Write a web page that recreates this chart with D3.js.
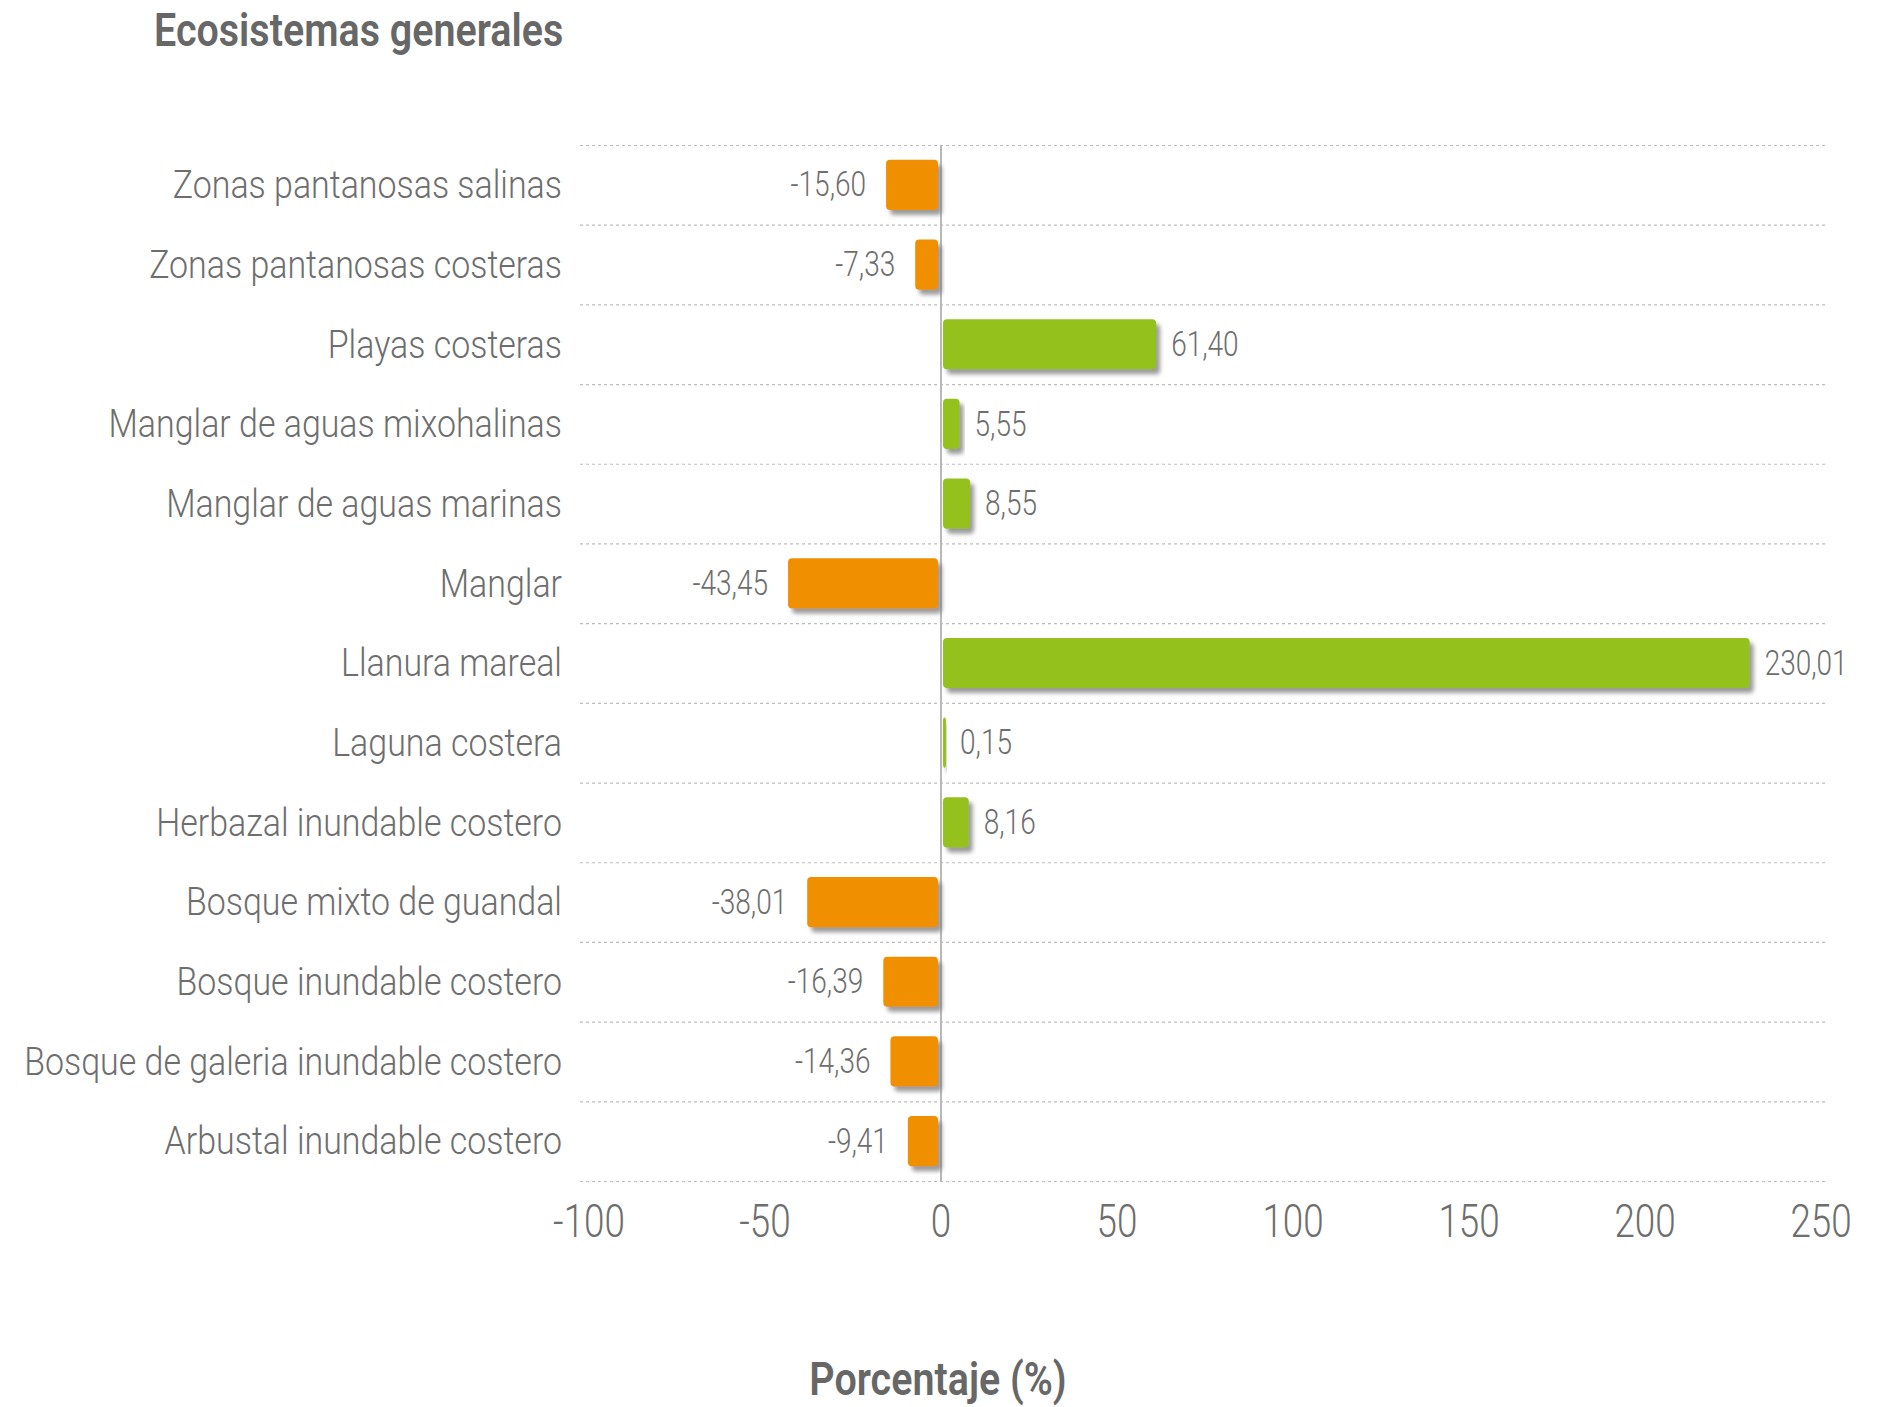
<!DOCTYPE html>
<html>
<head>
<meta charset="utf-8">
<script src="https://cdn.jsdelivr.net/npm/d3@7"></script>
<style>
  html, body { margin: 0; padding: 0; background: #ffffff; }
  svg { display: block; }
  text { font-family: Roboto, "Noto Sans", sans-serif; }
</style>
</head>
<body>
<svg id="chart" width="1877" height="1407"></svg>
<script>
// Ecosystem categories, top to bottom
const categories = [
  "Zonas pantanosas salinas",
  "Zonas pantanosas costeras",
  "Playas costeras",
  "Manglar de aguas mixohalinas",
  "Manglar de aguas marinas",
  "Manglar",
  "Llanura mareal",
  "Laguna costera",
  "Herbazal inundable costero",
  "Bosque mixto de guandal",
  "Bosque inundable costero",
  "Bosque de galeria inundable costero",
  "Arbustal inundable costero"
];

// Percentage change per ecosystem
const values = [-15.60, -7.33, 61.40, 5.55, 8.55, -43.45, 230.01, 0.15, 8.16, -38.01, -16.39, -14.36, -9.41];

// X axis tick values
const xTicks = [-100, -50, 0, 50, 100, 150, 200, 250];

const titleText = "Ecosistemas generales";
const axisTitle = "Porcentaje (%)";

const svg = d3.select("#chart");
const textColor = "#6e6e6e";

const plot = { left: 580, right: 1828, top: 145, bottom: 1181 };

const x = d3.scaleLinear().domain([-100, 250]).range([589, 1821]);
const y = d3.scaleBand().domain(categories).range([plot.top, plot.bottom]).paddingInner(0.37).paddingOuter(0.185);
const rowScale = d3.scaleBand().domain(categories).range([plot.top, plot.bottom]);

// decimal comma, plain hyphen for negatives
const fmt = v => d3.format(".2f")(v).replace(".", ",").replace("\u2212", "-");

// drop shadow for bars
const defs = svg.append("defs");
const f = defs.append("filter").attr("id", "shadow").attr("x", "-20%").attr("y", "-20%").attr("width", "150%").attr("height", "150%");
f.append("feDropShadow").attr("dx", 4).attr("dy", 5).attr("stdDeviation", 2.2)
  .attr("flood-color", "#7a7a7a").attr("flood-opacity", 0.75);

// helper: horizontally squeezed text for a condensed look
function label(g, px, py, str, opts) {
  return g.append("g").attr("transform", `translate(${px},${py}) scale(${opts.sx || 0.8},1)`)
    .append("text")
    .attr("x", 0).attr("y", 0)
    .attr("fill", opts.fill || textColor)
    .attr("font-size", opts.size)
    .attr("font-weight", opts.weight || 300)
    .attr("text-anchor", opts.anchor || "start")
    .attr("dominant-baseline", opts.baseline || "central")
    .text(str);
}

// horizontal dashed gridlines at row boundaries
const gridYs = categories.map(c => rowScale(c)).concat([plot.bottom]);
svg.append("g").selectAll("line").data(gridYs).join("line")
  .attr("x1", plot.left).attr("x2", plot.right)
  .attr("y1", d => d + 0.5).attr("y2", d => d + 0.5)
  .attr("stroke", "#bdbdbd").attr("stroke-width", 1.2)
  .attr("stroke-dasharray", "3,3");

// zero line
svg.append("line")
  .attr("x1", x(0)).attr("x2", x(0))
  .attr("y1", plot.top).attr("y2", plot.bottom)
  .attr("stroke", "#b8b8b8").attr("stroke-width", 2);

// bars
const bars = svg.append("g");
bars.selectAll("rect").data(values).join("rect")
  .attr("x", d => d < 0 ? x(d) : x(0) + 2)
  .attr("width", d => Math.max(3, Math.abs(x(d) - x(0)) - 3))
  .attr("y", (d, i) => y(categories[i]))
  .attr("height", y.bandwidth())
  .attr("rx", 4).attr("ry", 4)
  .attr("fill", d => d < 0 ? "#f09000" : "#95c11f")
  .attr("filter", "url(#shadow)");

// value labels
const vl = svg.append("g");
values.forEach((v, i) => {
  const cy = y(categories[i]) + y.bandwidth() / 2;
  if (v < 0) {
    label(vl, x(v) - 20, cy, fmt(v), { size: 35, anchor: "end" });
  } else {
    label(vl, Math.max(x(v), x(0) + 5) + 14, cy, fmt(v), { size: 35, anchor: "start" });
  }
});

// category labels
const cl = svg.append("g");
categories.forEach(c => {
  label(cl, 562, rowScale(c) + rowScale.bandwidth() / 2, c, { size: 39, anchor: "end", sx: 0.87 });
});

// x tick labels
const xl = svg.append("g");
xTicks.forEach(t => {
  label(xl, x(t), 1221, String(t), { size: 46, anchor: "middle" });
});

// title
label(svg, 154, 30, titleText, { size: 47, weight: 600, anchor: "start", fill: "#676767", sx: 0.84 });

// axis title
label(svg, 938, 1379, axisTitle, { size: 47, weight: 600, anchor: "middle", fill: "#676767", sx: 0.84 });
</script>
</body>
</html>
